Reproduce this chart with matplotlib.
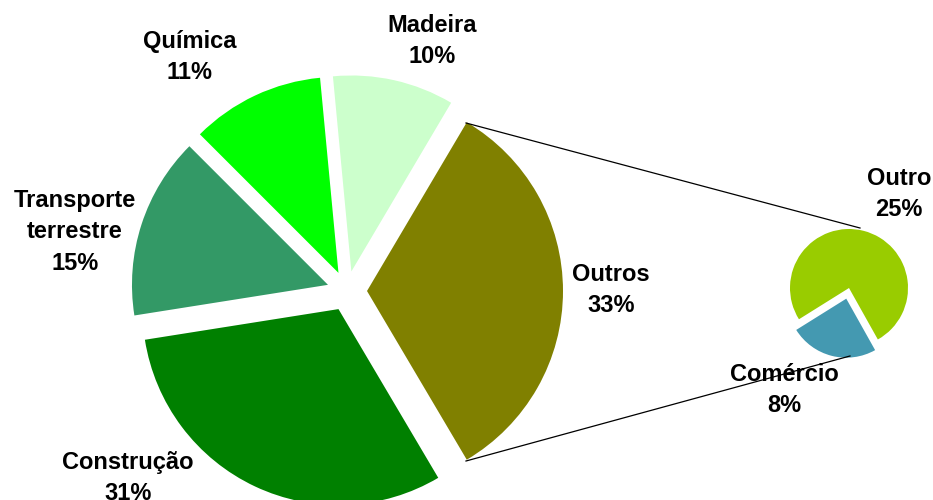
import matplotlib
matplotlib.use("Agg")
import matplotlib.pyplot as plt

# Main pie (counterclockwise starting from "Outros")
main_labels = ["Outros", "Madeira", "Química", "Transporte\nterrestre", "Construção"]
main_values = [33, 10, 11, 15, 31]
main_colors = ["#808000", "#CCFFCC", "#00FF00", "#339966", "#008000"]

# Secondary pie (breakdown of "Outros")
sec_labels = ["Comércio", "Outro"]
sec_values = [8, 25]
sec_colors = ["#4499B1", "#99CC00"]

W, H = 933, 500
fig = plt.figure(figsize=(W / 100, H / 100), dpi=100)
ax = fig.add_axes([0, 0, 1, 1])

def py(y):
    return H - y

# main pie
main_r = 196
main_c = (347, py(291))
start = -main_values[0] / sum(main_values) * 360 / 2
ax.pie(main_values, colors=main_colors, startangle=start, counterclock=True,
       radius=main_r, center=main_c, explode=[20] * len(main_values),
       wedgeprops=dict(linewidth=0), frame=True)

# secondary pie
sec_r = 59
sec_c = (849, py(288))
ax.pie(sec_values, colors=sec_colors, startangle=212, counterclock=True,
       radius=sec_r, center=sec_c, explode=[11, 0],
       wedgeprops=dict(linewidth=0), frame=True)

ax.set_xlim(0, W)
ax.set_ylim(0, H)
ax.set_aspect("auto")
ax.axis("off")

# connector lines
ax.plot([466, 860], [py(123), py(228)], color="black", lw=0.9)
ax.plot([466, 850], [py(461), py(356)], color="black", lw=0.9)

font = dict(family=["Liberation Sans", "DejaVu Sans"], fontsize=17,
            fontweight="bold", ha="center", va="center", linespacing=1.48)

main_pos = [(611, 290), (432, 41), (190, 57), (75, 232), (128, 478)]
for lab, v, (x, y) in zip(main_labels, main_values, main_pos):
    ax.text(x, py(y), f"{lab}\n{v}%", **font)

sec_pos = [(784, 390), (899, 194)]
for lab, v, (x, y) in zip(sec_labels, sec_values, sec_pos):
    ax.text(x, py(y), f"{lab}\n{v}%", **font)

fig.savefig("out.png", dpi=100)
